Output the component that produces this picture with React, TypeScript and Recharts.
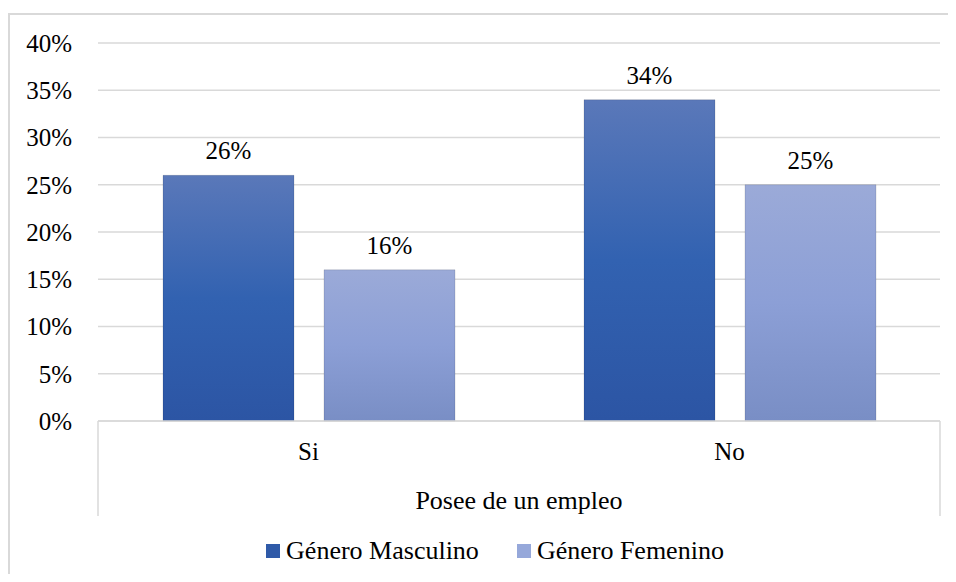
import React from "react";
import { BarChart, Bar, XAxis, YAxis, CartesianGrid, Legend, LabelList } from "recharts";

const categories = ["Si", "No"];
const masculino = [26, 34];
const femenino = [16, 25];
const yTicks = [0, 5, 10, 15, 20, 25, 30, 35, 40];
const axisTitle = "Posee de un empleo";
const seriesNames = ["Género Masculino", "Género Femenino"];

const data = categories.map((c, i) => ({ cat: c, m: masculino[i], f: femenino[i] }));

const FONT = "'Liberation Serif', 'Times New Roman', Tinos, serif";
const GRID = "#d9d9d9";
const CSS = `.chartbox, .chartbox *, .chartbox text, .chartbox tspan { font-family: 'Liberation Serif', 'Times New Roman', Tinos, serif !important; }`;

const AxisBox = (props: any) => {
  const vb = props.viewBox || {};
  const x = vb.x, y = vb.y, w = vb.width, h = vb.height;
  return (
    <g>
      <line x1={x} y1={y} x2={x} y2={y + h} stroke={GRID} strokeWidth={1.5} />
      <line x1={x + w} y1={y} x2={x + w} y2={y + h} stroke={GRID} strokeWidth={1.5} />
      <text x={x + w / 2} y={y + 88} textAnchor="middle" fontFamily={FONT} fontSize={26} fill="#000">
        {axisTitle}
      </text>
    </g>
  );
};

const LegendContent = () => {
  const colors = ["#2f5aa8", "#96a8da"];
  return (
    <div style={{ display: "flex", justifyContent: "center", fontFamily: FONT, fontSize: 26, color: "#000", paddingLeft: 34 }}>
      {seriesNames.map((n, i) => (
        <div key={n} style={{ display: "flex", alignItems: "center", marginRight: i === 0 ? 38 : 0 }}>
          <span style={{ display: "inline-block", width: 14, height: 14, background: colors[i], marginRight: 6 }} />
          <span>{n}</span>
        </div>
      ))}
    </div>
  );
};

const tickStyle = { fontFamily: FONT, fontSize: 25, fill: "#000" };

export default function App() {
  return (
    <div className="chartbox" style={{ margin: -8, width: 956, height: 582, position: "relative", fontFamily: FONT }}>
      <style>{CSS}</style>
      <div style={{ position: "absolute", left: 8, top: 13, width: 946, height: 567, borderLeft: `2px solid ${GRID}`, borderTop: `2px solid ${GRID}` }} />
      <BarChart
        width={956}
        height={582}
        data={data}
        margin={{ top: 43, right: 16, left: 8, bottom: 66 }}
        barCategoryGap={65}
        barGap={30}
      >
        <defs>
          <linearGradient id="gm" x1="0" y1="0" x2="0" y2="1">
            <stop offset="0%" stopColor="#5a78b9" />
            <stop offset="50%" stopColor="#3262b1" />
            <stop offset="100%" stopColor="#2c55a4" />
          </linearGradient>
          <linearGradient id="gf" x1="0" y1="0" x2="0" y2="1">
            <stop offset="0%" stopColor="#9baad8" />
            <stop offset="50%" stopColor="#8c9fd6" />
            <stop offset="100%" stopColor="#798ec5" />
          </linearGradient>
        </defs>
        <CartesianGrid vertical={false} stroke={GRID} strokeWidth={1.5} />
        <YAxis
          width={90}
          domain={[0, 40]}
          ticks={yTicks}
          tickFormatter={(v: number) => `${v}%`}
          axisLine={false}
          tickLine={false}
          tickSize={0}
          tickMargin={26}
          tick={tickStyle}
        />
        <XAxis
          dataKey="cat"
          height={95}
          axisLine={{ stroke: GRID, strokeWidth: 1.5 }}
          tickLine={false}
          tickSize={0}
          tickMargin={21}
          tick={tickStyle}
          label={<AxisBox />}
        />
        <Legend
          layout="horizontal"
          verticalAlign="middle"
          align="center"
          wrapperStyle={{ top: 536, left: 0, width: 956 }}
          content={<LegendContent />}
        />
        <Bar dataKey="m" name={seriesNames[0]} fill="url(#gm)" stroke="rgba(0,0,0,0.12)" strokeWidth={1} isAnimationActive={false}>
          <LabelList dataKey="m" position="top" offset={16} formatter={(v: any) => `${v}%`} fontFamily={FONT} fontSize={25} fill="#000" />
        </Bar>
        <Bar dataKey="f" name={seriesNames[1]} fill="url(#gf)" stroke="rgba(0,0,0,0.12)" strokeWidth={1} isAnimationActive={false}>
          <LabelList dataKey="f" position="top" offset={16} formatter={(v: any) => `${v}%`} fontFamily={FONT} fontSize={25} fill="#000" />
        </Bar>
      </BarChart>
    </div>
  );
}
